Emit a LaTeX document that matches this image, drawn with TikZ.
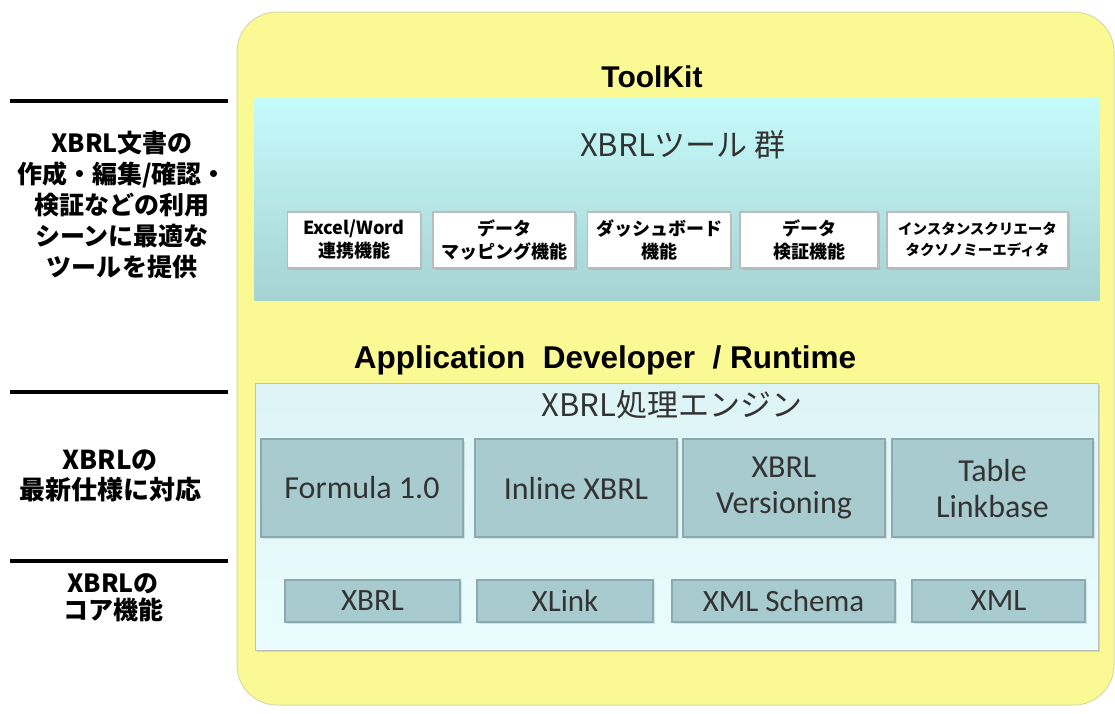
\documentclass[tikz,border=0pt]{standalone}
\usepackage{fontspec}
\setmainfont{Liberation Sans}
\newfontfamily\jpfont{Noto Sans CJK JP}
\newfontfamily\calfont{Carlito}
\usepackage{xcolor}
\usepackage{tikz}
\usetikzlibrary{positioning,shadows}

\definecolor{kitYellow}{HTML}{FAF993}
\definecolor{kitEdge}{HTML}{D6DCA8}
\definecolor{toolTop}{HTML}{C6FBFB}
\definecolor{toolBot}{HTML}{A6D2D2}
\definecolor{engTop}{HTML}{DDF4F7}
\definecolor{engBot}{HTML}{EAFCFE}
\definecolor{specFill}{HTML}{A8CBCF}
\definecolor{specEdge}{HTML}{8AAAB0}
\definecolor{boxGray}{HTML}{B8BCBC}
\definecolor{txtGray}{HTML}{333333}

\begin{document}
\begin{tikzpicture}[
    x=1pt, y=-1pt,
    panel/.style={rectangle, inner sep=0pt},
    toolbox/.style={rectangle, draw=boxGray, line width=1.5pt, fill=white, align=center, inner sep=0pt,
        font=\jpfont\bfseries\fontsize{18}{23}\selectfont, drop shadow={shadow xshift=1.5pt, shadow yshift=-1.5pt, opacity=0.25}},
    specbox/.style={rectangle, draw=specEdge, line width=1.5pt, fill=specFill, align=center, inner sep=0pt,
        text=txtGray, font=\calfont\fontsize{32}{36}\selectfont, drop shadow={shadow xshift=1.5pt, shadow yshift=-1.5pt, opacity=0.2}},
    corebox/.style={specbox, font=\calfont\fontsize{31}{34}\selectfont},
    sidetext/.style={align=center, font=\jpfont\bfseries\fontsize{25}{31}\selectfont},
    rule/.style={line width=4.5pt}
]
\useasboundingbox (0,0) rectangle (1115,713);

% Outer ToolKit frame
\node[panel, draw=kitEdge, line width=1pt, fill=kitYellow, rounded corners=40pt,
    minimum width=877pt, minimum height=693pt] (kit) at (675.5,358.5) {};
\node[font=\bfseries\fontsize{30}{34}\selectfont] (kittitle) at (652,77) {ToolKit};

% Tool group panel
\node[panel, top color=toolTop, bottom color=toolBot,
    minimum width=845pt, minimum height=202pt] (tools) at (677,199) {};
\node[font=\jpfont\fontsize{31}{36}\selectfont, text=txtGray] (toolstitle) at (683,145) {XBRLツール 群};

% Tools
\node[toolbox, minimum width=133pt, minimum height=56pt] (excel) at (354,240) {Excel/Word\\連携機能};
\node[toolbox, minimum width=142pt, minimum height=56pt] (mapping) at (504,240) {データ\\マッピング機能};
\node[toolbox, minimum width=143pt, minimum height=56pt] (dash) at (659,240) {ダッシュボード\\機能};
\node[toolbox, minimum width=138pt, minimum height=56pt] (check) at (809,240) {データ\\検証機能};
\node[toolbox, minimum width=181pt, minimum height=56pt,
    font=\jpfont\bfseries\fontsize{14.5}{21}\selectfont] (editor) at (977.5,240) {インスタンスクリエータ\\タクソノミーエディタ};

% Runtime layer
\node[font=\bfseries\fontsize{31.5}{35}\selectfont] (runtime) at (605,360) {Application\ \ Developer\ \ / Runtime};

\node[panel, draw=black!25, line width=1pt, top color=engTop, bottom color=engBot,
    minimum width=843pt, minimum height=267pt,
    drop shadow={shadow xshift=1.5pt, shadow yshift=-1.5pt, opacity=0.25}] (engine) at (676.5,516.5) {};
\node[font=\jpfont\fontsize{31}{36}\selectfont, text=txtGray] (enginetitle) at (672,405) {XBRL処理エンジン};

% Latest specifications
\node[specbox, minimum width=202pt, minimum height=98pt] (formula) at (362,488) {Formula 1.0};
\node[specbox, minimum width=202pt, minimum height=98pt] (inline) at (576,488) {Inline XBRL};
\node[specbox, minimum width=202pt, minimum height=98pt] (version) at (784,488) {XBRL\\Versioning};
\node[specbox, minimum width=201pt, minimum height=98pt] (table) at (992.5,488) {Table\\Linkbase};

% Core
\node[corebox, minimum width=175pt, minimum height=42pt] (xbrl) at (372.5,601) {XBRL};
\node[corebox, minimum width=176pt, minimum height=42pt] (xlink) at (565,601) {XLink};
\node[corebox, minimum width=223pt, minimum height=42pt] (schema) at (783.5,601) {XML Schema};
\node[corebox, minimum width=173pt, minimum height=42pt] (xml) at (998.5,601) {XML};

% Left side labels
\coordinate (r1a) at (10,101);  \coordinate (r1b) at (228,101);
\coordinate (r2a) at (10,392);  \coordinate (r2b) at (228,392);
\coordinate (r3a) at (10,561);  \coordinate (r3b) at (228,561);
\draw[rule] (r1a) -- (r1b);
\draw[rule] (r2a) -- (r2b);
\draw[rule] (r3a) -- (r3b);

\node[sidetext] (usage) at (122,205) {XBRL文書の\\作成・編集/確認・\\検証などの利用\\シーンに最適な\\ツールを提供};
\node[sidetext, font=\jpfont\bfseries\fontsize{26}{30}\selectfont] (latest) at (110,476) {XBRLの\\最新仕様に対応};
\node[sidetext, font=\jpfont\bfseries\fontsize{25}{27}\selectfont] (core) at (113,598) {XBRLの\\コア機能};

\end{tikzpicture}
\end{document}
